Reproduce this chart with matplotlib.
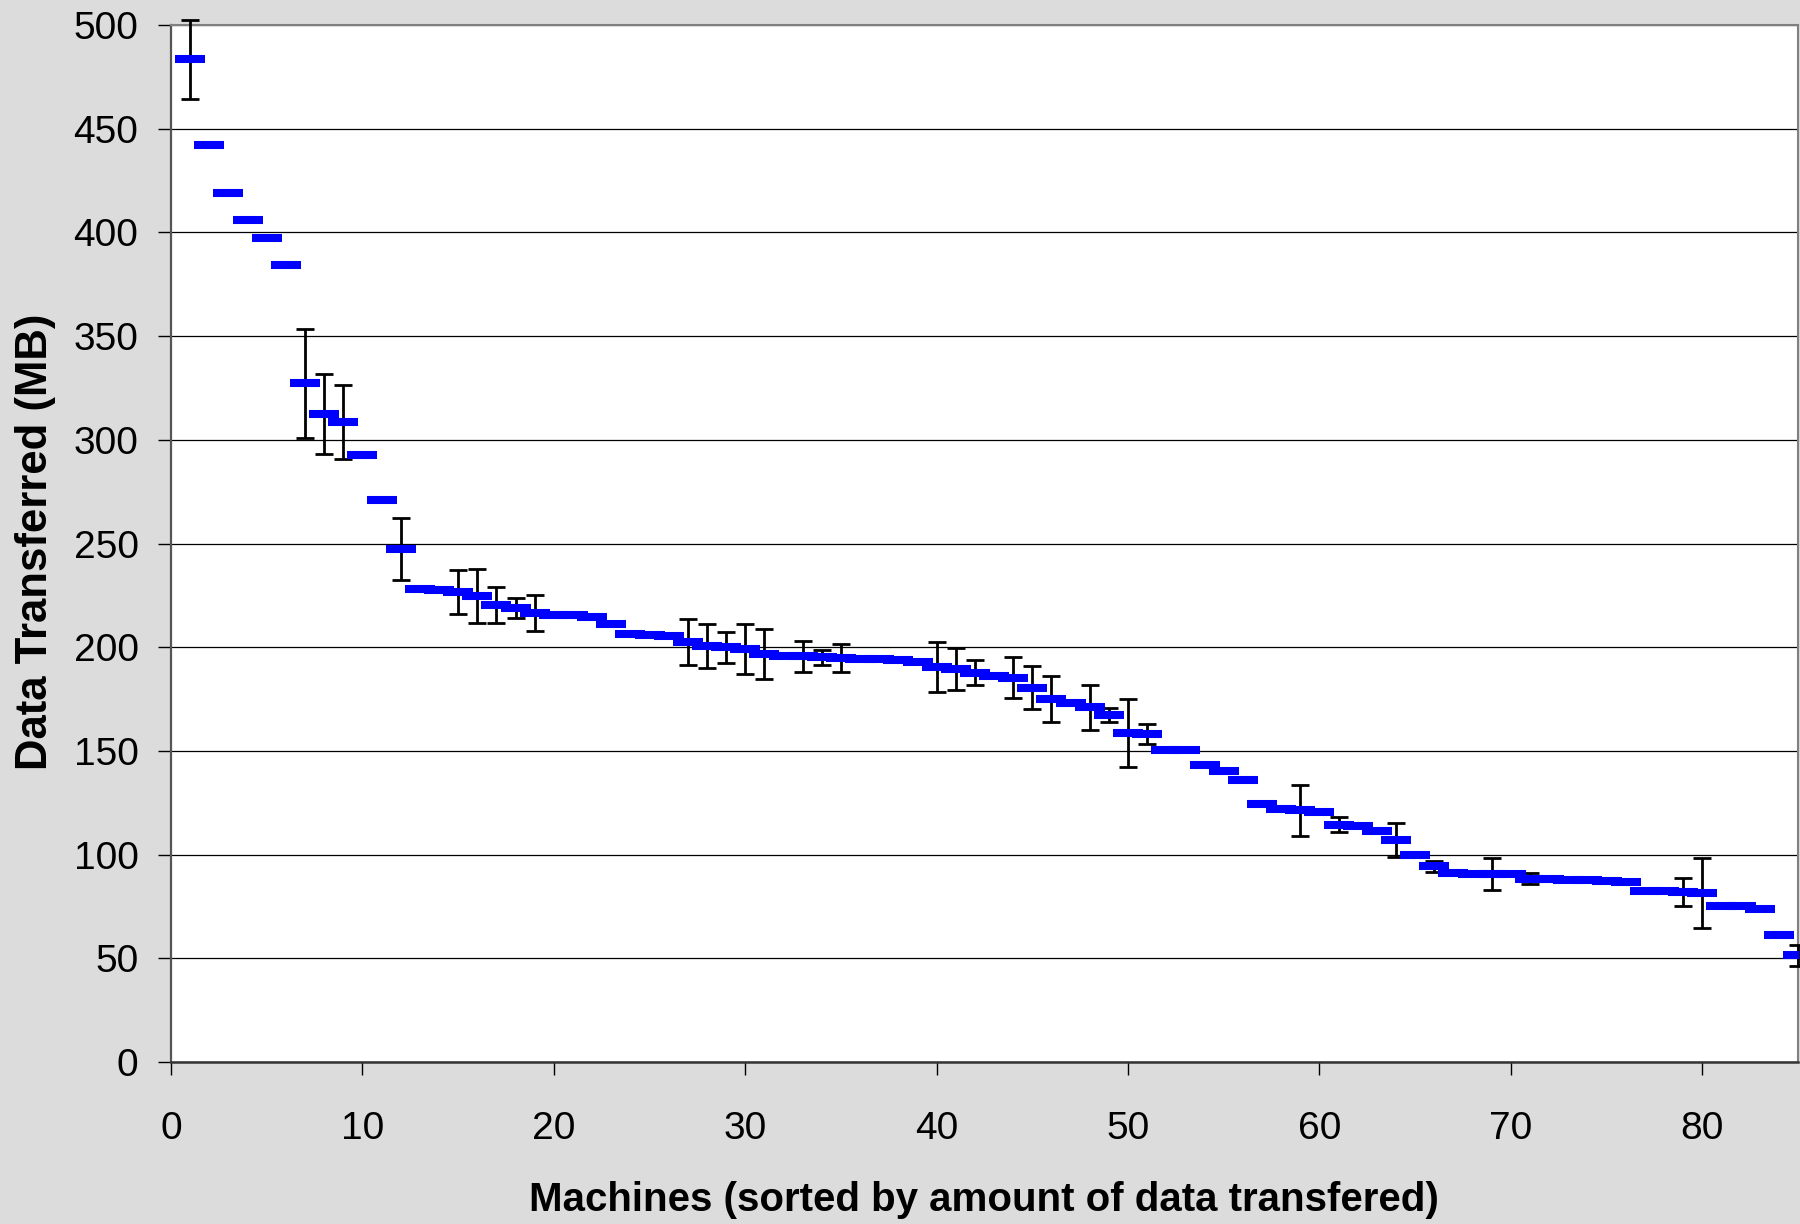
import numpy as np
import matplotlib
matplotlib.use("Agg")
import matplotlib.pyplot as plt

# ---- data ----
machines = list(range(1, 86))
data_mb = [
    483.5, 442.2, 419.1, 406.1, 397.4, 384.4, 327.3, 312.4, 308.7, 292.5,
    271.0, 247.4, 228.0, 227.5, 226.5, 224.7, 220.4, 219.1, 216.4, 215.5,
    215.5, 214.8, 211.1, 206.6, 205.9, 205.2, 202.3, 200.7, 199.9, 199.1,
    196.7, 195.9, 195.6, 195.1, 194.8, 194.3, 194.3, 194.0, 192.7, 190.4,
    189.5, 187.8, 185.9, 185.3, 180.5, 175.0, 172.9, 171.0, 167.1, 158.6,
    158.2, 150.5, 150.5, 143.4, 140.5, 136.2, 124.3, 122.1, 121.3, 120.5,
    114.3, 113.9, 111.5, 107.0, 99.9, 94.3, 91.2, 90.6, 90.6, 90.6,
    88.4, 88.2, 87.9, 87.6, 87.3, 86.8, 82.3, 82.3, 82.1, 81.5,
    75.2, 75.2, 73.9, 61.4, 51.4,
]
# machines that have an error bar, and its half-length (MB)
err_machines = [1, 7, 8, 9, 12, 15, 16, 17, 18, 19,
                27, 28, 29, 30, 31, 33, 34, 35, 40, 41,
                42, 44, 45, 46, 48, 49, 50, 51, 59, 61,
                64, 66, 69, 71, 79, 80, 85]
err_values = [19.0, 26.3, 19.4, 17.9, 15.0, 10.6, 13.0, 8.7, 4.8, 8.6,
              11.1, 10.6, 7.3, 12.0, 12.0, 7.4, 3.5, 6.7, 12.0, 10.0,
              6.0, 10.0, 10.2, 11.3, 10.7, 3.4, 16.5, 5.0, 12.3, 3.6,
              8.2, 2.7, 7.6, 2.5, 6.7, 16.9, 4.9]
x_ticks = [0, 10, 20, 30, 40, 50, 60, 70, 80]
y_ticks = [0, 50, 100, 150, 200, 250, 300, 350, 400, 450, 500]
x_label = "Machines (sorted by amount of data transfered)"
y_label = "Data Transferred (MB)"

plt.rcParams['font.family'] = ['Liberation Sans', 'DejaVu Sans']

W, H = 1800, 1224
fig = plt.figure(figsize=(W / 100, H / 100), dpi=100)
fig.patch.set_facecolor('#dcdcdc')

left, right, top, bottom = 171, 1798, 25, 1062
ax = fig.add_axes([left / W, (H - bottom) / H, (right - left) / W, (bottom - top) / H])
ax.set_facecolor('white')

# horizontal gridlines
ax.set_axisbelow(True)
ax.yaxis.grid(True, color='black', linewidth=0.9)
ax.xaxis.grid(False)

# error bars (not clipped: the first one reaches above the plot area)
err_y = [data_mb[m - 1] for m in err_machines]
eb = ax.errorbar(err_machines, err_y, yerr=err_values, fmt='none', ecolor='black',
                 elinewidth=2.0, capsize=6.2, capthick=2.0, zorder=3)
for artist in eb.lines[1] + eb.lines[2]:
    artist.set_clip_on(False)

# blue dash markers
for m, v in zip(machines, data_mb):
    ax.plot([m], [v], marker='_', markersize=21.6, markeredgewidth=5.8,
            color='#0000ff', linestyle='none', zorder=4)

ax.set_xlim(0, 85)
ax.set_ylim(0, 500)
ax.set_xticks(x_ticks)
ax.set_yticks(y_ticks)

ax.tick_params(axis='x', direction='out', length=9.4, width=1.0, pad=26,
               labelsize=28, colors='black')
ax.tick_params(axis='y', direction='out', length=9.4, width=1.0, pad=14,
               labelsize=28, colors='black')

for side in ['top', 'right']:
    ax.spines[side].set_color('#808080')
    ax.spines[side].set_linewidth(1.5)
ax.spines['left'].set_color('#555555')
ax.spines['left'].set_linewidth(1.6)
ax.spines['bottom'].set_color('#333333')
ax.spines['bottom'].set_linewidth(1.8)

fig.text(984 / W, 1 - 1200 / H, x_label, ha='center', va='center',
         fontsize=29, fontweight='bold')
fig.text(36 / W, 1 - 542 / H, y_label, ha='center', va='center',
         rotation=90, fontsize=31.5, fontweight='bold')

fig.savefig('out.png', dpi=100, facecolor=fig.get_facecolor())
